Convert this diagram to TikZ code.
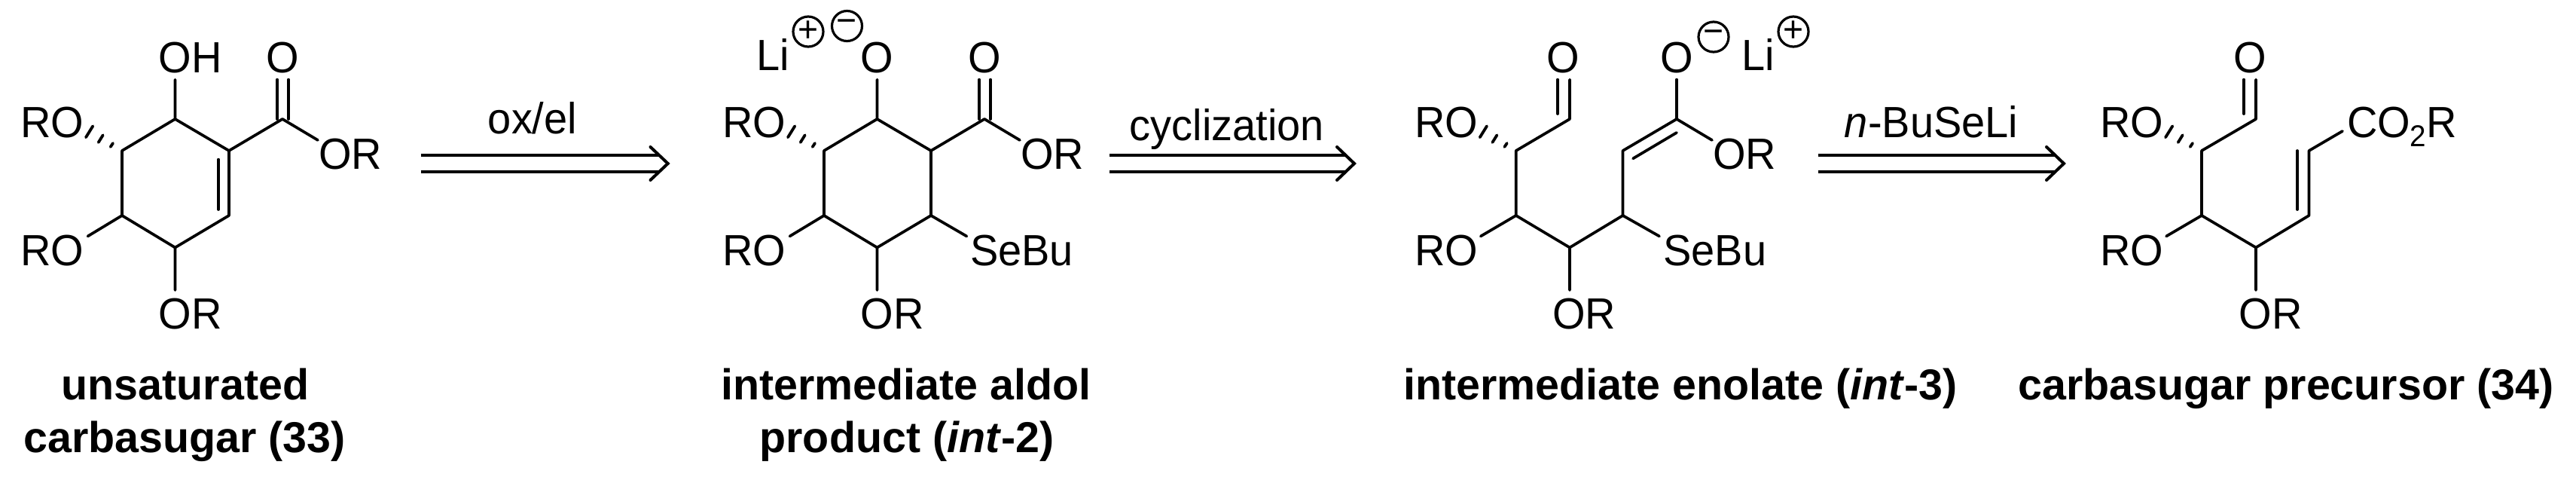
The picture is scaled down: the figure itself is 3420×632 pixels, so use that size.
\documentclass[tikz,border=0pt]{standalone}
\usepackage{fontspec}
\setmainfont[FakeStretch=0.965]{Liberation Sans}
\newfontfamily\labfont{Liberation Sans}
\tikzset{
  bond/.style={line width=1.85pt,line cap=round,line join=round},
  hashmark/.style={line width=1.9pt,line cap=round},
  shaft/.style={line width=2.4pt},
  barb/.style={line width=2pt,line cap=round,line join=miter},
  atom/.style={inner sep=0pt,outer sep=0pt,anchor=base west,font=\fontsize{29}{34}\selectfont},
  atomc/.style={atom,anchor=base},
  rxn/.style={atom,anchor=base},
  lab/.style={inner sep=0pt,outer sep=0pt,anchor=base,font=\fontsize{28.7}{34}\selectfont\labfont\bfseries},
  charge/.style={circle,draw,line width=1.6pt,minimum size=20pt,inner sep=0pt,outer sep=0pt,font=\fontsize{24}{24}\selectfont}
}
\begin{document}
\begin{tikzpicture}[x=0.5pt,y=-0.5pt]
\useasboundingbox (0,0) rectangle (3420,632);

% ===== Compound 33 =====
\coordinate (a1) at (232.5,158);
\coordinate (a2) at (162,200);
\coordinate (a3) at (162,286);
\coordinate (a4) at (232.5,328.5);
\coordinate (a5) at (304,286);
\coordinate (a6) at (304,200);
\coordinate (a7) at (375,158);
\coordinate (a7o) at (422,186);
\coordinate (a1o) at (232.5,105.6);
\coordinate (a3o) at (116.5,313.5);
\coordinate (a4o) at (232.5,385);
\coordinate (a7a) at (368,105.6);
\coordinate (a7b) at (383,105.6);
\coordinate (a7c) at (368,158);
\coordinate (a7d) at (383,158);
\coordinate (a6i) at (290,211.6);
\coordinate (a5i) at (290,278);
\node[atom] (oh33) at (210.7,96.7) {OH};
\node[atomc] (o33) at (375,96.7) {O};
\node[atom] (ro33a) at (27,182) {RO};
\node[atom] (or33b) at (423,224) {OR};
\node[atom] (ro33c) at (27,352.6) {RO};
\node[atom] (or33d) at (210.7,436.5) {OR};
\draw[bond] (a1o)--(a1)--(a2)--(a3)--(a4)--(a5)--(a6)--(a1);
\draw[bond] (a6)--(a7)--(a7o);
\draw[bond] (a7a)--(a7c) (a7b)--(a7d);
\draw[bond] (a6i)--(a5i);
\draw[bond] (a3)--(a3o) (a4)--(a4o);
\draw[hashmark] ([shift={(-48,-17.7)}]a2)--([shift={(-38.7,-32.7)}]a2);
\draw[hashmark] ([shift={(-31.3,-11)}]a2)--([shift={(-25.3,-20.7)}]a2);
\draw[hashmark] ([shift={(-15.3,-5)}]a2)--([shift={(-12,-10)}]a2);
\node[lab] (l33a) at (246,530) {unsaturated};
\node[lab] (l33b) at (245,600) {carbasugar (33)};

% ===== Arrow 1 =====
\coordinate (r1a) at (558.5,206);
\coordinate (r1b) at (875,206);
\coordinate (r1c) at (558.5,228);
\coordinate (r1d) at (875,228);
\coordinate (r1t) at (886.7,217);
\coordinate (r1u) at (863.5,195);
\coordinate (r1v) at (863.5,239);
\draw[shaft] (r1a)--(r1b) (r1c)--(r1d);
\draw[barb] (r1u)--(r1t)--(r1v);
\node[rxn] (t1) at (707,177) {ox/el};

% ===== int-2 =====
\coordinate (b1) at (1164.5,158);
\coordinate (b2) at (1094,200);
\coordinate (b3) at (1094,286);
\coordinate (b4) at (1164.5,328.5);
\coordinate (b5) at (1236,286);
\coordinate (b6) at (1236,200);
\coordinate (b7) at (1307,158);
\coordinate (b7o) at (1354,186);
\coordinate (b1o) at (1164.5,105.6);
\coordinate (b3o) at (1048.5,313.5);
\coordinate (b4o) at (1164.5,385);
\coordinate (b5s) at (1283.4,313.5);
\coordinate (b7a) at (1300,105.6);
\coordinate (b7b) at (1315,105.6);
\coordinate (b7c) at (1300,158);
\coordinate (b7d) at (1315,158);
\node[atomc] (oa) at (1164.5,96.7) {O};
\node[atomc] (ob) at (1307,96.7) {O};
\node[atom] (lia) at (1004,93.5) {Li};
\node[charge] (pa) at (1073,42) {+};
\node[charge] (ma) at (1124.5,34.5) {−};
\node[atom] (ro2a) at (959,182) {RO};
\node[atom] (or2b) at (1355,224) {OR};
\node[atom] (ro2c) at (959,352.6) {RO};
\node[atom] (or2d) at (1142.7,436.5) {OR};
\node[atom] (se2) at (1288,352.6) {SeBu};
\draw[bond] (b1o)--(b1)--(b2)--(b3)--(b4)--(b5)--(b6)--(b1);
\draw[bond] (b6)--(b7)--(b7o);
\draw[bond] (b7a)--(b7c) (b7b)--(b7d);
\draw[bond] (b3)--(b3o) (b4)--(b4o) (b5)--(b5s);
\draw[hashmark] ([shift={(-48,-17.7)}]b2)--([shift={(-38.7,-32.7)}]b2);
\draw[hashmark] ([shift={(-31.3,-11)}]b2)--([shift={(-25.3,-20.7)}]b2);
\draw[hashmark] ([shift={(-15.3,-5)}]b2)--([shift={(-12,-10)}]b2);
\node[lab] (l2a) at (1203,530) {intermediate aldol};
\node[lab] (l2b) at (1204,600) {product (\textit{int}-2)};

% ===== Arrow 2 =====
\coordinate (r2a) at (1473,206);
\coordinate (r2b) at (1786.5,206);
\coordinate (r2c) at (1473,228);
\coordinate (r2d) at (1786.5,228);
\coordinate (r2t) at (1798,217);
\coordinate (r2u) at (1775,195);
\coordinate (r2v) at (1775,239);
\draw[shaft] (r2a)--(r2b) (r2c)--(r2d);
\draw[barb] (r2u)--(r2t)--(r2v);
\node[rxn] (t2) at (1629,186) {cyclization};

% ===== int-3 =====
\coordinate (c1) at (2084,158);
\coordinate (c2) at (2012.7,200);
\coordinate (c3) at (2012.7,286);
\coordinate (c4) at (2084,328.5);
\coordinate (c5) at (2154.5,286);
\coordinate (c6) at (2154.5,200);
\coordinate (c7) at (2226,158);
\coordinate (c7o) at (2273,186);
\coordinate (c7t) at (2226,105.6);
\coordinate (c1a) at (2084,105.6);
\coordinate (c1b) at (2068,105.6);
\coordinate (c1c) at (2068,151);
\coordinate (c3o) at (1965.8,313.5);
\coordinate (c4o) at (2084,385);
\coordinate (c5s) at (2203,313.5);
\coordinate (c6i) at (2168,210.4);
\coordinate (c7i) at (2226,176);
\node[atomc] (oc) at (2075.5,96.7) {O};
\node[atomc] (od) at (2226,96.7) {O};
\node[atom] (lib) at (2312,93.5) {Li};
\node[charge] (mb) at (2275,49) {−};
\node[charge] (pb) at (2381,42) {+};
\node[atom] (ro3a) at (1878,182) {RO};
\node[atom] (or3b) at (2274,224) {OR};
\node[atom] (ro3c) at (1878,352.6) {RO};
\node[atom] (or3d) at (2061.2,436.5) {OR};
\node[atom] (se3) at (2208.5,352.6) {SeBu};
\draw[bond] (c1a)--(c1)--(c2)--(c3)--(c4)--(c5)--(c6)--(c7)--(c7o);
\draw[bond] (c1b)--(c1c);
\draw[bond] (c7t)--(c7);
\draw[bond] (c6i)--(c7i);
\draw[bond] (c3)--(c3o) (c4)--(c4o) (c5)--(c5s);
\draw[hashmark] ([shift={(-48,-17.7)}]c2)--([shift={(-38.7,-32.7)}]c2);
\draw[hashmark] ([shift={(-31.3,-11)}]c2)--([shift={(-25.3,-20.7)}]c2);
\draw[hashmark] ([shift={(-15.3,-5)}]c2)--([shift={(-12,-10)}]c2);
\node[lab] (l3) at (2231,530) {intermediate enolate (\textit{int}-3)};

% ===== Arrow 3 =====
\coordinate (r3a) at (2413.5,206);
\coordinate (r3b) at (2728.5,206);
\coordinate (r3c) at (2413.5,228);
\coordinate (r3d) at (2728.5,228);
\coordinate (r3t) at (2740,217);
\coordinate (r3u) at (2717,195);
\coordinate (r3v) at (2717,239);
\draw[shaft] (r3a)--(r3b) (r3c)--(r3d);
\draw[barb] (r3u)--(r3t)--(r3v);
\node[rxn] (t3) at (2564,182) {\textit{n}-BuSeLi};

% ===== Compound 34 =====
\coordinate (d1) at (2995,158);
\coordinate (d2) at (2923,200);
\coordinate (d3) at (2923,286);
\coordinate (d4) at (2995,328.5);
\coordinate (d5) at (3065.5,286);
\coordinate (d6) at (3065.5,200);
\coordinate (d7) at (3110,174);
\coordinate (d1a) at (2995,105.6);
\coordinate (d1b) at (2979,105.6);
\coordinate (d1c) at (2979,151);
\coordinate (d3o) at (2876,313.5);
\coordinate (d4o) at (2995,385);
\coordinate (d6i) at (3050,200);
\coordinate (d5i) at (3050,278);
\node[atomc] (oe) at (2987,96.7) {O};
\node[atom] (co2) at (3116,182) {CO\raisebox{-6.3pt}{\fontsize{20}{20}\selectfont 2}R};
\node[atom] (ro4a) at (2788,182) {RO};
\node[atom] (ro4c) at (2788,352.6) {RO};
\node[atom] (or4d) at (2972.7,436.5) {OR};
\draw[bond] (d1a)--(d1)--(d2)--(d3)--(d4)--(d5)--(d6)--(d7);
\draw[bond] (d1b)--(d1c);
\draw[bond] (d6i)--(d5i);
\draw[bond] (d3)--(d3o) (d4)--(d4o);
\draw[hashmark] ([shift={(-48,-17.7)}]d2)--([shift={(-38.7,-32.7)}]d2);
\draw[hashmark] ([shift={(-31.3,-11)}]d2)--([shift={(-25.3,-20.7)}]d2);
\draw[hashmark] ([shift={(-15.3,-5)}]d2)--([shift={(-12,-10)}]d2);
\node[lab] (l4) at (3035,530) {carbasugar precursor (34)};
\end{tikzpicture}
\end{document}
